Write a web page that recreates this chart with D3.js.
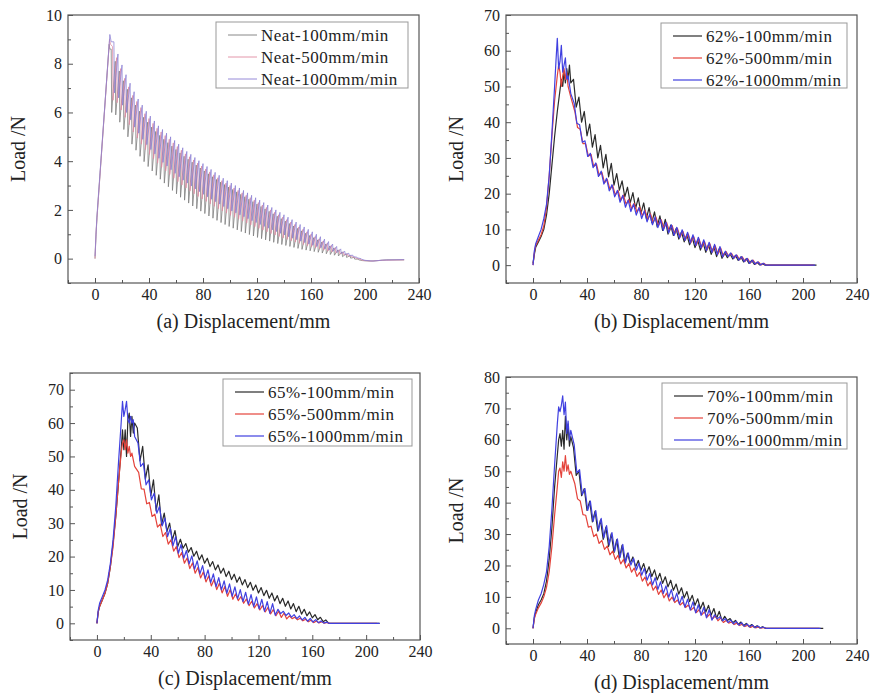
<!DOCTYPE html>
<html>
<head>
<meta charset="utf-8">
<script src="https://cdn.jsdelivr.net/npm/d3@7"></script>
<style>
  body { margin: 0; background: #fff; }
  text { font-family: "Liberation Serif", Tinos, "Times New Roman", Times, "DejaVu Serif", serif; fill: #222; }
</style>
</head>
<body>
<script>
// ---- tick values ----
var xTicks = [0, 40, 80, 120, 160, 200, 240]
var xMinor = [-20, 20, 60, 100, 140, 180, 220]
var yTicksA = [0, 2, 4, 6, 8, 10]
var yMinorA = [-1, 1, 3, 5, 7, 9]
var yTicksB = [0, 10, 20, 30, 40, 50, 60, 70]
var yMinorB = [-5, 5, 15, 25, 35, 45, 55, 65]
var yTicksC = [0, 10, 20, 30, 40, 50, 60, 70]
var yMinorC = [-5, 5, 15, 25, 35, 45, 55, 65, 75]
var yTicksD = [0, 10, 20, 30, 40, 50, 60, 70, 80]
var yMinorD = [-5, 5, 15, 25, 35, 45, 55, 65, 75]

// ---- legends ----
var legendA = ["Neat-100mm/min", "Neat-500mm/min", "Neat-1000mm/min"]
var legendB = ["62%-100mm/min", "62%-500mm/min", "62%-1000mm/min"]
var legendC = ["65%-100mm/min", "65%-500mm/min", "65%-1000mm/min"]
var legendD = ["70%-100mm/min", "70%-500mm/min", "70%-1000mm/min"]

// ---- (a) neat: sawtooth, tooth peak / trough at each x ----
var neatX = [12,15,18,21,24,27,30,33,36,39,42,45,48,51,54,57,60,63,66,69,72,75,78,81,84,87,90,93,96,99,
  102,105,108,111,114,117,120,123,126,129,132,135,138,141,144,147,150,153,156,159,162,165,168,171,174,177,180,183,186,189,192,195]

var neat100Head = [[0,0],[0.8,1.0],[1.5,1.7],[10.5,8.8],[11,8.6]]
var neat100Peak = [8.6,8.1,7.7,7.3,6.95,6.6,6.3,6.05,5.8,5.6,5.4,5.22,5.06,4.9,4.76,4.62,4.48,4.34,4.2,4.08,
  3.96,3.84,3.72,3.6,3.48,3.36,3.25,3.14,3.04,2.94,2.84,2.74,2.64,2.54,2.44,2.34,2.24,2.14,2.04,1.94,
  1.84,1.74,1.64,1.54,1.44,1.34,1.24,1.14,1.04,0.95,0.86,0.77,0.68,0.6,0.52,0.44,0.36,0.28,0.2,0.12,0.05,-0.02]
var neat100Trough = [6.0,5.9,5.6,5.3,5.0,4.7,4.45,4.2,3.98,3.78,3.6,3.42,3.26,3.1,2.95,2.8,2.66,2.52,2.4,2.28,
  2.16,2.05,1.95,1.85,1.75,1.66,1.57,1.48,1.4,1.32,1.25,1.18,1.11,1.05,0.99,0.93,0.87,0.82,0.77,0.72,
  0.67,0.62,0.58,0.54,0.5,0.46,0.42,0.38,0.35,0.32,0.29,0.26,0.23,0.2,0.17,0.14,0.11,0.08,0.05,0.02,-0.02,-0.05]
var neat100Tail = [[198,-0.08],[204,-0.1],[210,-0.08],[216,-0.05],[229,-0.05]]

var neat500Head = [[0,0],[0.8,1.1],[1.5,1.7],[10.8,9.0],[11.5,8.8]]
var neat500Peak = [8.7,8.25,7.8,7.4,7.05,6.7,6.45,6.2,5.95,5.75,5.55,5.35,5.2,5.05,4.9,4.75,4.6,4.45,4.3,4.18,
  4.05,3.92,3.8,3.68,3.56,3.44,3.32,3.2,3.1,3.0,2.9,2.8,2.7,2.6,2.5,2.4,2.3,2.2,2.1,2.0,
  1.9,1.8,1.7,1.6,1.5,1.4,1.3,1.2,1.1,1.0,0.9,0.81,0.72,0.63,0.54,0.45,0.36,0.27,0.19,0.11,0.04,-0.02]
var neat500Trough = [6.5,6.4,6.1,5.8,5.5,5.2,4.95,4.7,4.48,4.28,4.1,3.92,3.75,3.6,3.45,3.3,3.16,3.02,2.9,2.78,
  2.66,2.55,2.45,2.35,2.25,2.15,2.05,1.96,1.87,1.78,1.7,1.62,1.54,1.46,1.38,1.31,1.24,1.17,1.1,1.03,
  0.97,0.91,0.85,0.79,0.73,0.68,0.63,0.58,0.53,0.48,0.44,0.4,0.35,0.31,0.27,0.23,0.19,0.15,0.11,0.07,0.02,-0.03]
var neat500Tail = [[199,-0.08],[205,-0.1],[212,-0.07],[229,-0.05]]

var neat1000Head = [[0,0.1],[0.8,1.1],[1.5,1.8],[11,9.2],[12,8.9]]
var neat1000Peak = [8.9,8.4,7.95,7.55,7.2,6.85,6.55,6.3,6.05,5.85,5.65,5.45,5.3,5.15,5.0,4.85,4.7,4.55,4.4,4.28,
  4.15,4.02,3.9,3.78,3.66,3.54,3.42,3.3,3.2,3.1,3.0,2.9,2.8,2.7,2.6,2.5,2.4,2.3,2.2,2.1,
  2.0,1.9,1.8,1.7,1.6,1.5,1.4,1.3,1.2,1.1,1.0,0.9,0.8,0.7,0.6,0.5,0.4,0.3,0.22,0.14,0.06,0.0]
var neat1000Trough = [6.8,6.6,6.3,6.0,5.7,5.4,5.15,4.9,4.68,4.48,4.3,4.12,3.95,3.8,3.65,3.5,3.36,3.22,3.1,2.98,
  2.86,2.75,2.64,2.54,2.44,2.34,2.24,2.14,2.05,1.96,1.88,1.8,1.72,1.64,1.56,1.48,1.4,1.32,1.25,1.18,
  1.11,1.04,0.97,0.9,0.84,0.78,0.72,0.66,0.6,0.55,0.5,0.45,0.4,0.35,0.3,0.25,0.21,0.17,0.13,0.08,0.03,-0.02]
var neat1000Tail = [[200,-0.07],[206,-0.1],[213,-0.06],[229,-0.04]]

// ---- (b)-(d): oscillation high at x, low two mm later ----
var bendX = [30,34,38,42,46,50,54,58,62,66,70,74,78,82,86,90,94,98,102,106,110,114,118,122,126,130,134,138,142,146,150,154,158,162,166,170]

// (b) 62%
var b100Head = [[0,0.5],[1,3],[2,5],[4,6.5],[6,8],[8,10],[10,14],[12,20],[14,28],[16,36],[18,43],[20,49],[21,52],[22,50],[23,54],[24,51],[25,55],[26,52],[27,56],[28,51]]
var b100Hi = [52,47,43,39.5,36.5,33.5,31,28.5,25.6,23.6,21.8,20.3,18.8,17.4,16.1,14.9,13.8,12.8,11.2,10.2,9.3,8.5,7.7,7.0,6.3,5.7,5.1,4.6,3.5,3.1,2.7,2.3,1.8,1.3,0.8,0.4]
var b100Lo = [44.2,40,36.2,33,30,27.2,24.7,22.4,21,19.1,17.4,15.9,14.5,13.1,11.9,10.7,9.7,8.7,8.3,7.3,6.5,5.7,4.9,4.2,3.6,3.0,2.4,1.9,2.1,1.7,1.3,0.9,0.5,0.2,0.05,0]
var b100Tail = [[174,0],[210,0]]

var b500Head = [[0,0],[1,3.5],[2,5.5],[4,7],[6,8.5],[8,11],[10,16],[12,25],[14,36],[16,46],[18,53],[19,56],[20,54],[21,50],[22,53],[23,55],[24,52],[25,54],[26,50],[28,47]]
var b500Hi = [43,38,34,31,28.3,26,24,22.3,20.9,19.6,18.4,17.3,16.3,15.3,14.4,13.5,12.7,11.9,11.1,10.3,9.5,8.7,8.0,7.3,6.6,6.0,5.4,4.8,3.8,3.3,2.8,2.3,1.85,1.4,0.9,0.5]
var b500Lo = [38.5,34,30.5,27.6,25.1,23,21.1,19.6,18.2,17,15.8,14.8,13.8,12.8,11.9,11.1,10.3,9.5,8.7,7.9,7.1,6.3,5.6,4.9,4.3,3.7,3.1,2.5,2.5,2.0,1.5,1.05,0.6,0.3,0.05,0]
var b500Tail = [[174,0],[208,0]]

var b1000Head = [[0,0],[1,4],[2,6],[4,8],[6,10],[8,13],[10,17],[12,25],[14,37],[16,50],[17,57],[18,63.5],[19,55],[20,57],[21,61.5],[22,54],[23,56],[24,58],[25,52],[26,53],[28,48]]
var b1000Hi = [45.3,39.3,34.8,31.3,28.6,26.3,24.3,22.5,20.9,19.5,18.2,17.1,16.1,15.2,14.3,13.5,12.7,12.0,11.3,10.6,9.9,9.2,8.5,7.8,7.1,6.4,5.8,5.2,3.9,3.4,2.9,2.4,1.9,1.4,0.9,0.5]
var b1000Lo = [39.7,34.4,30.4,27.3,24.8,22.7,20.8,19.1,17.6,16.2,15.0,14.0,13.0,12.1,11.3,10.5,9.7,9.0,8.3,7.6,6.9,6.2,5.5,4.8,4.1,3.5,2.9,2.3,2.4,1.9,1.4,0.95,0.5,0.3,0.05,0]
var b1000Tail = [[174,0],[209,0]]

// (c) 65%
var c100Head = [[0,0],[1,3.5],[2,5],[4,7],[6,9],[8,12],[10,17],[12,24],[14,32],[16,42],[18,52],[19,58],[20,52],[21,58],[22,50],[23,61],[24,63],[25,56],[26,62],[27,57],[28,60]]
var c100Hi = [58.5,53,47.5,43,38.5,33,30,27.8,25.2,23.9,22.7,21.6,20.5,19.5,18.5,17.5,16.5,15.6,14.7,13.9,13.1,12.3,11.5,10.7,9.9,9.1,8.3,7.5,6.7,5.9,5.1,4.2,3.4,2.6,1.8,1.0]
var c100Lo = [48.7,43.2,38.2,33.7,29.5,27.5,24.9,23,22.5,21.3,20.1,19,18,17,16,15,14,13.1,12.3,11.5,10.7,9.9,9.1,8.3,7.5,6.7,5.9,5.1,4.3,3.5,2.75,2.25,1.65,1.05,0.5,0.05]
var c100Tail = [[175,0],[210,0]]

var c500Head = [[0,0],[1,3.5],[2,5],[4,7],[6,9],[8,12],[10,17],[12,23],[14,32],[16,42],[18,51],[19,54],[20,55],[21,52],[22,55],[23,51],[24,53],[25,50],[26,51],[28,47]]
var c500Hi = [45.2,40.2,36.2,32.7,29.7,27.2,25,23,21.2,19.6,18.1,16.7,15.4,14.2,13.1,12,11,10.1,8.8,8.0,7.3,6.6,5.9,5.3,4.7,4.1,3.6,3.1,2.2,1.8,1.5,1.2,0.9,0.7,0.45,0.25]
var c500Lo = [40.3,35.8,32,28.8,26,23.7,21.6,19.7,18,16.4,15,13.6,12.4,11.2,10.1,9.1,8.1,7.2,6.8,6.0,5.3,4.6,4.0,3.4,2.8,2.25,1.75,1.3,1.4,1.05,0.75,0.45,0.2,0.1,0.02,0]
var c500Tail = [[175,0],[208,0]]

var c1000Head = [[0,0],[1,4],[2,6],[4,8],[6,10],[8,13],[10,18],[12,25],[14,35],[16,48],[18,60],[19,66.5],[20,62],[21,64],[22,66.5],[23,61],[24,60],[25,62],[26,60],[27,61],[28,56]]
var c1000Hi = [54,48,43,39,35,31.5,28.5,26,23.6,21.8,20.2,18.7,17.3,16,14.8,13.7,12.7,11.8,10.9,10.1,9.3,8.6,7.9,7.2,6.5,5.9,4.2,3.6,3.1,2.6,2.2,1.8,1.45,1.1,0.7,0.35]
var c1000Lo = [47,41.5,37,33,29.2,26,23.2,21,19.5,17.8,16.2,14.8,13.4,12.2,11.0,10.0,9.0,8.1,7.3,6.5,5.7,5.0,4.3,3.6,3.0,2.4,2.9,2.35,1.85,1.4,1.0,0.62,0.38,0.18,0.05,0]
var c1000Tail = [[175,0],[210,0]]

// (d) 70%
var d100Head = [[0,0],[1,3.5],[2,5],[4,7.5],[6,9],[8,11],[10,15],[12,22],[14,32],[16,45],[18,55],[19,60],[20,62],[21,58],[22,63],[23,57],[24,67.5],[25,60],[26,65],[27,58],[28,61]]
var d100Hi = [57.5,50,44.5,40.5,37.3,34.5,32.2,30.1,28.2,26.5,23.9,22.7,21.6,20.6,19.6,18.6,17.5,16.4,15.3,14.1,12.9,11.7,10.5,9.4,8.3,7.3,6.3,5.4,3.8,3.1,2.5,2.0,1.55,1.2,0.8,0.5]
var d100Lo = [48.7,42.2,37.5,33.9,30.9,28.3,26.1,24.1,22.3,20.8,20.7,19.5,18.5,17.5,16.5,15.4,14.3,13.2,12.1,10.9,9.7,8.5,7.3,6.2,5.2,4.2,3.2,2.4,2.45,1.8,1.25,0.8,0.5,0.25,0.1,0]
var d100Tail = [[175,0],[215,0]]

var d500Head = [[0,0],[1,3],[2,4.5],[4,6.5],[6,8],[8,10],[10,13],[12,18],[14,26],[16,36],[18,45],[19,50],[20,51],[21,48],[22,53],[23,50],[24,55],[25,50],[26,52],[27,49],[28,50]]
var d500Hi = [46,40.5,36,32.5,30,28,26.2,24.6,23.2,21.9,20.6,19.2,17.8,16.3,14.8,13.4,12.2,11.2,9.9,9.0,8.2,7.4,6.6,5.9,5.2,4.5,3.9,3.3,2.5,2.0,1.65,1.3,0.95,0.7,0.45,0.25]
var d500Lo = [41.2,36.2,32.2,29.2,27,25.1,23.4,21.9,20.5,19.2,17.9,16.5,15,13.5,12.1,10.8,9.7,8.7,8.2,7.4,6.6,5.8,5.0,4.3,3.6,3.0,2.4,1.85,1.65,1.2,0.88,0.55,0.28,0.15,0.08,0]
var d500Tail = [[175,0],[212,0]]

var d1000Head = [[0,0],[1,4],[2,6],[4,9],[6,11],[8,14],[10,18],[12,26],[14,38],[16,52],[18,65],[19,70.5],[20,69],[21,71],[22,74],[23,68],[24,72],[25,62],[26,66],[27,60],[28,63]]
var d1000Hi = [58.5,50.5,44.5,40.5,37.5,35,32.7,30.5,28.5,26.7,24,22.3,20.7,19.1,17.5,16.1,14.8,13.5,12.3,11.2,10.2,9.3,8.4,7.5,6.7,6.0,4.3,3.7,3.1,2.6,2.2,1.8,1.4,1.05,0.7,0.4]
var d1000Lo = [49.5,42.5,37.5,34,31.2,28.8,26.6,24.5,22.6,20.8,20.1,18.5,16.9,15.3,13.8,12.4,11.1,9.9,8.7,7.7,6.7,5.8,4.9,4.1,3.3,2.6,3.0,2.4,1.85,1.4,1.0,0.7,0.5,0.22,0.1,0]
var d1000Tail = [[175,0],[213,0]]

// ---- layout / styles ----
var serif = "'Liberation Serif', Tinos, 'Times New Roman', Times, 'DejaVu Serif', serif"
var neatColors = ["#7c7c7c", "#e08aa0", "#8a7ed4"]
var mainColors = ["#2a2a2a", "#e4433b", "#4040e0"]

var panels = [
  { frame: {l: 68, t: 15, r: 419, b: 283}, yDomain: [-1, 10], yTicks: yTicksA, yMinor: yMinorA,
    title: "(a) Displacement/mm", legend: legendA, legendBox: {x: 216, y: 22, w: 192, h: 66},
    teethX: neatX, drop: 0.35, colors: neatColors, width: 0.9, opacity: 0.85,
    series: [
      {head: neat100Head, hi: neat100Peak, lo: neat100Trough, tail: neat100Tail, phase: 0},
      {head: neat500Head, hi: neat500Peak, lo: neat500Trough, tail: neat500Tail, phase: 1},
      {head: neat1000Head, hi: neat1000Peak, lo: neat1000Trough, tail: neat1000Tail, phase: 2}
    ] },
  { frame: {l: 506, t: 15, r: 857, b: 283}, yDomain: [-5, 70], yTicks: yTicksB, yMinor: yMinorB,
    title: "(b) Displacement/mm", legend: legendB, legendBox: {x: 661, y: 23, w: 186, h: 65},
    teethX: bendX, drop: 2, colors: mainColors, width: 1.2, opacity: 1,
    series: [
      {head: b100Head, hi: b100Hi, lo: b100Lo, tail: b100Tail, phase: 0},
      {head: b500Head, hi: b500Hi, lo: b500Lo, tail: b500Tail, phase: 1},
      {head: b1000Head, hi: b1000Hi, lo: b1000Lo, tail: b1000Tail, phase: 0.5}
    ] },
  { frame: {l: 70, t: 373, r: 420, b: 640}, yDomain: [-5, 75], yTicks: yTicksC, yMinor: yMinorC,
    title: "(c) Displacement/mm", legend: legendC, legendBox: {x: 223, y: 379, w: 189, h: 67},
    teethX: bendX, drop: 2, colors: mainColors, width: 1.2, opacity: 1,
    series: [
      {head: c100Head, hi: c100Hi, lo: c100Lo, tail: c100Tail, phase: 0},
      {head: c500Head, hi: c500Hi, lo: c500Lo, tail: c500Tail, phase: 1},
      {head: c1000Head, hi: c1000Hi, lo: c1000Lo, tail: c1000Tail, phase: 0.5}
    ] },
  { frame: {l: 506, t: 377, r: 857, b: 644}, yDomain: [-5, 80], yTicks: yTicksD, yMinor: yMinorD,
    title: "(d) Displacement/mm", legend: legendD, legendBox: {x: 662, y: 383, w: 185, h: 66},
    teethX: bendX, drop: 2, colors: mainColors, width: 1.2, opacity: 1,
    series: [
      {head: d100Head, hi: d100Hi, lo: d100Lo, tail: d100Tail, phase: 0},
      {head: d500Head, hi: d500Hi, lo: d500Lo, tail: d500Tail, phase: 1},
      {head: d1000Head, hi: d1000Hi, lo: d1000Lo, tail: d1000Tail, phase: 0.5}
    ] }
]

var svg = d3.select("body").append("svg")
  .attr("width", 870)
  .attr("height", 693)
  .style("font-family", serif)

// head + (high, low) pairs + tail
var buildPoints = function(s, teethX, drop)
{
  var pts = s.head.slice()
  s.hi.forEach(function(h, i) {
    var x = teethX[i] + s.phase
    pts.push([x, h])
    pts.push([x + drop, s.lo[i]])
  })
  return pts.concat(s.tail)
}

var styleAxis = function(g)
{
  g.attr("font-family", null)
  g.select("path.domain").remove()
  g.selectAll("line").attr("stroke", "#555").attr("stroke-width", 1)
  g.selectAll("text")
    .style("font-family", serif)
    .attr("font-size", 16)
    .attr("fill", "#222")
}

panels.forEach(function(p, pi)
{
  var f = p.frame
  var xScale = d3.scaleLinear().domain([-20, 240]).range([f.l, f.r])
  var yScale = d3.scaleLinear().domain(p.yDomain).range([f.b, f.t])

  var clipId = "clip" + pi
  svg.append("clipPath").attr("id", clipId)
    .append("rect")
    .attr("x", f.l).attr("y", f.t)
    .attr("width", f.r - f.l).attr("height", f.b - f.t)

  // minor + major ticks, pointing inward
  svg.append("g")
    .attr("transform", "translate(0," + f.b + ")")
    .call(d3.axisBottom(xScale).tickValues(xMinor).tickSize(-3).tickFormat(""))
    .call(styleAxis)
  svg.append("g")
    .attr("transform", "translate(0," + f.b + ")")
    .call(d3.axisBottom(xScale).tickValues(xTicks).tickSize(-5).tickPadding(6))
    .call(styleAxis)
  svg.append("g")
    .attr("transform", "translate(" + f.l + ",0)")
    .call(d3.axisLeft(yScale).tickValues(p.yMinor).tickSize(-3).tickFormat(""))
    .call(styleAxis)
  svg.append("g")
    .attr("transform", "translate(" + f.l + ",0)")
    .call(d3.axisLeft(yScale).tickValues(p.yTicks).tickSize(-5).tickPadding(6))
    .call(styleAxis)

  // curves
  var line = d3.line()
    .x(function(d) { return xScale(d[0]) })
    .y(function(d) { return yScale(d[1]) })

  var curves = svg.append("g").attr("clip-path", "url(#" + clipId + ")")
  p.series.forEach(function(s, si) {
    curves.append("path")
      .datum(buildPoints(s, p.teethX, p.drop))
      .attr("d", line)
      .attr("fill", "none")
      .attr("stroke", p.colors[si])
      .attr("stroke-width", p.width)
      .attr("stroke-opacity", p.opacity)
      .attr("stroke-linejoin", "round")
  })

  // frame
  svg.append("rect")
    .attr("x", f.l).attr("y", f.t)
    .attr("width", f.r - f.l).attr("height", f.b - f.t)
    .attr("fill", "none")
    .attr("stroke", "#555")
    .attr("stroke-width", 1.2)

  // legend
  var lb = p.legendBox
  var lg = svg.append("g").attr("transform", "translate(" + lb.x + "," + lb.y + ")")
  lg.append("rect")
    .attr("width", lb.w).attr("height", lb.h)
    .attr("fill", "#fff")
    .attr("stroke", "#999")
    .attr("stroke-width", 1)
  var rows = lg.selectAll("g.row")
    .data(p.legend)
    .enter()
    .append("g")
    .attr("class", "row")
    .attr("transform", function(d, i) { return "translate(0," + (13 + i * 22) + ")" })
  rows.append("line")
    .attr("x1", 12).attr("x2", 41)
    .attr("stroke", function(d, i) { return p.colors[i] })
    .attr("stroke-width", p.width)
  rows.append("text")
    .attr("x", 45)
    .attr("y", 5.5)
    .attr("font-size", 17)
    .attr("letter-spacing", 0.5)
    .text(function(d) { return d })

  // axis titles
  svg.append("text")
    .attr("x", (f.l + f.r) / 2)
    .attr("y", f.b + 45)
    .attr("text-anchor", "middle")
    .attr("font-size", 20)
    .text(p.title)

  svg.append("text")
    .attr("transform", "translate(" + (f.l - 43) + "," + ((f.t + f.b) / 2) + ") rotate(-90)")
    .attr("text-anchor", "middle")
    .attr("font-size", 20)
    .text("Load /N")
})
</script>
</body>
</html>
